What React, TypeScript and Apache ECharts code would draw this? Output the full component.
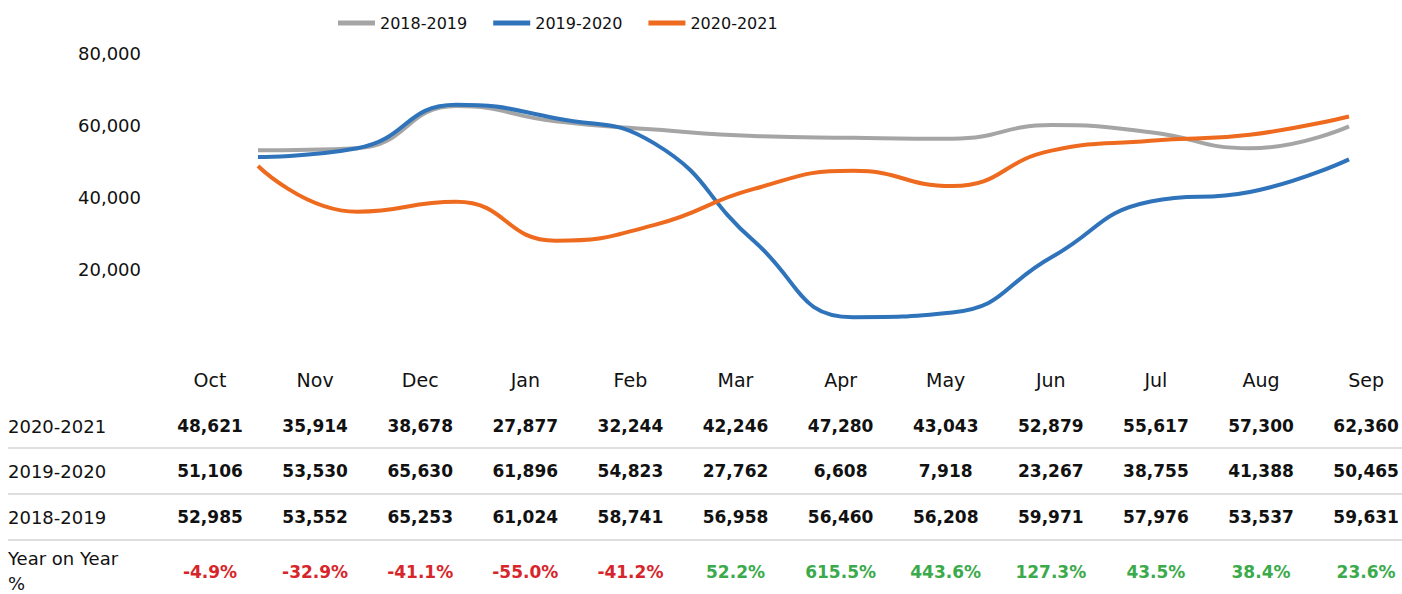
import React, { useEffect, useRef } from "react";
import * as echarts from "echarts";

const months = ["Oct", "Nov", "Dec", "Jan", "Feb", "Mar", "Apr", "May", "Jun", "Jul", "Aug", "Sep"];
const s2018 = [52985, 53552, 65253, 61024, 58741, 56958, 56460, 56208, 59971, 57976, 53537, 59631];
const s2019 = [51106, 53530, 65630, 61896, 54823, 27762, 6608, 7918, 23267, 38755, 41388, 50465];
const s2020 = [48621, 35914, 38678, 27877, 32244, 42246, 47280, 43043, 52879, 55617, 57300, 62360];
const yoy = ["-4.9%", "-32.9%", "-41.1%", "-55.0%", "-41.2%", "52.2%", "615.5%", "443.6%", "127.3%", "43.5%", "38.4%", "23.6%"];
const seriesNames = ["2018-2019", "2019-2020", "2020-2021"];
const yTicks = [0, 20000, 40000, 60000, 80000];

const COLORS = ["#A5A5A5", "#2F73BA", "#EE6A1E"];
const FONT = "DejaVu Sans";

export default function App() {
  const ref = useRef<HTMLDivElement>(null);
  useEffect(() => {
    if (!ref.current) return;
    const chart = echarts.init(ref.current, undefined, { renderer: "svg" });
    const fmt = (v: number) => v.toLocaleString("en-US");
    const colX = (i: number) => 210 + i * 105.1;
    const graphics: any[] = [];
    months.forEach((m, i) => {
      graphics.push({ type: "text", x: colX(i), y: 380, style: { text: m, font: `19px '${FONT}'`, fill: "#111", align: "center", verticalAlign: "middle" } });
    });
    const rows = [
      { label: "2020-2021", vals: s2020, y: 426 },
      { label: "2019-2020", vals: s2019, y: 471 },
      { label: "2018-2019", vals: s2018, y: 517 },
    ];
    rows.forEach((r) => {
      graphics.push({ type: "text", x: 8, y: r.y, style: { text: r.label, font: `18px '${FONT}'`, fill: "#111", align: "left", verticalAlign: "middle" } });
      r.vals.forEach((v, i) => {
        graphics.push({ type: "text", x: colX(i), y: r.y, style: { text: fmt(v), font: `bold 17px '${FONT}'`, fill: "#111", align: "center", verticalAlign: "middle" } });
      });
    });
    graphics.push({ type: "text", x: 8, y: 558, style: { text: "Year on Year", font: `18px '${FONT}'`, fill: "#111", align: "left", verticalAlign: "middle" } });
    graphics.push({ type: "text", x: 8, y: 583, style: { text: "%", font: `18px '${FONT}'`, fill: "#111", align: "left", verticalAlign: "middle" } });
    yoy.forEach((t, i) => {
      graphics.push({ type: "text", x: colX(i), y: 572, style: { text: t, font: `bold 17px '${FONT}'`, fill: t.startsWith("-") ? "#D7262B" : "#3BAA4B", align: "center", verticalAlign: "middle" } });
    });
    [448, 494, 540].forEach((y) => {
      graphics.push({ type: "line", shape: { x1: 8, y1: y, x2: 1402, y2: y }, style: { stroke: "#D4D4D4", lineWidth: 1.5 } });
    });

    const data = [s2018, s2019, s2020];
    chart.setOption({
      animation: false,
      legend: {
        top: 10,
        left: 333,
        itemWidth: 37,
        itemHeight: 5,
        itemGap: 26,
        icon: "rect",
        textStyle: { fontFamily: FONT, fontSize: 16, color: "#111" },
        data: seriesNames,
      },
      grid: { left: 258, right: 53, top: 53, bottom: 253 },
      xAxis: {
        type: "category",
        data: months,
        boundaryGap: false,
        axisLine: { show: false },
        axisTick: { show: false },
        axisLabel: { show: false },
        splitLine: { show: false },
      },
      yAxis: {
        type: "value",
        min: yTicks[0],
        max: yTicks[yTicks.length - 1],
        interval: 20000,
        axisLine: { show: false },
        axisTick: { show: false },
        splitLine: { show: false },
        axisLabel: {
          showMinLabel: false,
          margin: 117,
          fontFamily: FONT,
          fontSize: 18,
          color: "#111",
          formatter: (v: number) => fmt(v),
        },
      },
      series: seriesNames.map((n, k) => ({
        name: n,
        type: "line",
        data: data[k],
        smooth: 0.5,
        showSymbol: false,
        symbol: "none",
        lineStyle: { width: 4, color: COLORS[k] },
        itemStyle: { color: COLORS[k] },
      })),
      graphic: graphics,
    });
    return () => chart.dispose();
  }, []);
  return <div ref={ref} style={{ width: 1402, height: 594, position: "absolute", left: 0, top: 0 }} />;
}
